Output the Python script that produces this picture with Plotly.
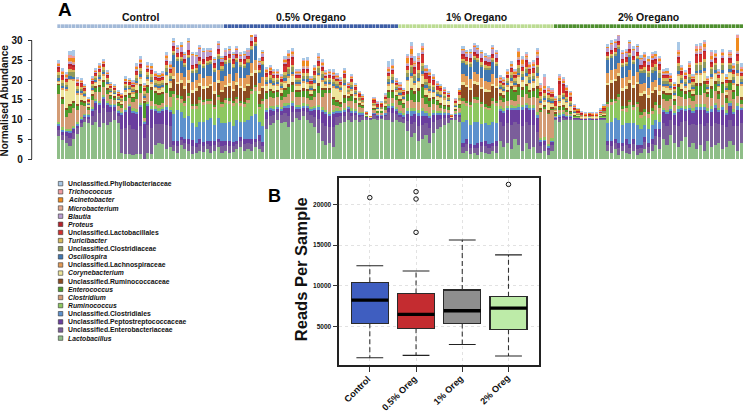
import plotly.graph_objects as go

W, H = 745, 413
FONT = "Liberation Sans, Arial, Helvetica, sans-serif"

# ---------------- Panel A data ----------------
group_names = ["Control", "0.5% Oregano", "1% Oregano", "2% Oregano"]
group_sizes = [45, 47, 42, 51]
group_colors = ["#A3BAD8", "#3E5EA6", "#BCDC93", "#4E8F2F"]

lactobacillus = [
 5.8, 4.7, 4.0, 3.3, 5.0, 6.4, 8.0, 9.3, 9.0,
 8.5, 9.5, 8.0, 9.0, 8.5, 9.5, 10.0, 9.0,
 1.5, 1.2, 1.3, 1.0, 1.4, 1.2, 0.0,
 1.5, 1.3, 3.5, 4.0, 3.8, 2.5, 3.0,
 2.0, 1.5, 3.5, 2.5, 2.0, 1.2, 1.5, 2.0, 1.8, 2.5, 1.5, 2.0, 3.0, 1.5,
 2.0, 1.5, 1.8, 2.5, 3.0, 2.0, 2.5, 2.0, 3.0, 2.5, 1.8,
 7.5, 8.5, 9.0, 10.0, 9.0, 9.5, 8.0, 9.5, 10.5, 10.0, 11.0, 10.0, 9.0, 8.0, 6.5, 4.5, 3.5, 4.0, 3.0, 8.5, 9.0, 9.5, 10.0, 9.5, 10.0, 9.5, 10.0,
 10.0, 10.0, 10.2, 10.0, 10.1, 10.0,
 10.0, 9.5, 10.0,
 9.5, 9.0, 7.0, 5.5, 6.5, 4.5, 5.0, 6.0, 4.0, 6.5, 7.5, 8.0, 8.5, 9.0,
 10.0, 10.0, 9.5,
 1.5, 2.0, 1.2, 1.5, 1.0, 1.8, 1.5, 1.2, 2.0, 1.5,
 4.5, 3.0, 4.0, 2.5, 5.0, 3.5, 2.0, 4.0, 2.5, 3.0, 1.5,
 1.5, 2.0, 1.0, 2.0,
 10.0, 9.5, 10.0, 9.8, 10.0, 10.0, 10.2, 10.0, 10.0, 10.1, 10.0, 10.0, 10.2, 10.0,
 2.0, 1.5, 2.5, 1.0, 2.0, 1.5, 1.2, 2.0, 1.0, 1.5, 2.5, 1.5, 2.0, 3.5, 2.5,
 5.0, 3.5, 6.0, 4.0, 3.0, 4.5, 5.5, 3.0, 4.0, 2.5, 3.5, 2.0, 4.5, 3.0, 3.5, 4.0, 2.5, 3.0, 4.5, 3.5, 2.0, 4.0,
]
enterobacteriaceae = [
 1.5, 1.5, 1.8, 2.0, 1.5, 1.5, 1.2, 1.0, 1.2,
 2.4, 3.0, 3.6, 3.9, 3.3, 2.4, 2.1, 1.8,
 6.0, 6.6, 7.2, 6.6, 6.0, 7.2, 5.4,
 7.2, 6.6, 5.4, 4.8, 5.1, 6.0, 5.4,
 1.5, 1.8, 1.2, 1.5, 1.8, 2.1, 1.5, 1.8, 1.5, 1.2, 1.8, 1.5, 1.2, 1.8,
 1.5, 1.8, 1.5, 1.2, 1.5, 1.8, 1.5, 1.8, 1.2, 2.1, 1.5,
 2.7, 2.4, 2.1, 1.8, 2.1, 2.1, 3.0, 2.4, 1.5, 1.8, 1.2, 1.8, 2.1, 2.7, 3.6, 4.5, 4.8, 4.2, 5.1, 2.1, 1.8, 1.5, 1.8, 1.5, 1.2, 1.2, 0.9,
 0.5, 0.4, 0.9, 0.7, 0.6, 0.9,
 1.8, 2.1, 1.5,
 1.2, 1.2, 2.7, 3.3, 3.0, 3.9, 3.6, 3.0, 3.9, 3.0, 2.4, 2.1, 1.8, 1.5,
 0.3, 0.9, 1.2,
 1.5, 1.8, 1.5, 1.2, 1.8, 1.5, 1.8, 1.5, 1.2, 1.8,
 4.8, 5.4, 5.1, 6.0, 4.5, 5.4, 6.3, 5.4, 6.0, 5.7, 5.4,
 1.8, 1.5, 1.2, 1.5,
 0.3, 0.9, 0.7, 0.6, 0.5, 0.3, 0.2, 0.2, 0.2, 0.2, 0.2, 0.2, 0.2, 0.3,
 1.5, 1.8, 1.5, 1.8, 1.2, 2.1, 1.5, 1.8, 1.5, 1.2, 1.8, 1.5, 1.8, 2.4, 3.0,
 4.2, 4.8, 3.9, 4.5, 5.4, 4.8, 4.2, 5.7, 4.8, 6.0, 5.4, 6.3, 4.5, 5.4, 5.7, 4.8, 6.0, 5.1, 5.4, 4.8, 6.3, 5.1,
]
peptostreptococcaceae = [
 1.0, 1.0, 1.0, 1.2, 1.0, 0.8, 0.8, 0.6, 0.8,
 1.6, 2.0, 2.4, 2.6, 2.2, 1.6, 1.4, 1.2,
 4.0, 4.4, 4.8, 4.4, 4.0, 4.8, 3.6,
 4.8, 4.4, 3.6, 3.2, 3.4, 4.0, 3.6,
 1.0, 1.2, 0.8, 1.0, 1.2, 1.4, 1.0, 1.2, 1.0, 0.8, 1.2, 1.0, 0.8, 1.2,
 1.0, 1.2, 1.0, 0.8, 1.0, 1.2, 1.0, 1.2, 0.8, 1.4, 1.0,
 1.8, 1.6, 1.4, 1.2, 1.4, 1.4, 2.0, 1.6, 1.0, 1.2, 0.8, 1.2, 1.4, 1.8, 2.4, 3.0, 3.2, 2.8, 3.4, 1.4, 1.2, 1.0, 1.2, 1.0, 0.8, 0.8, 0.6,
 0.3, 0.2, 0.6, 0.5, 0.4, 0.6,
 1.2, 1.4, 1.0,
 0.8, 0.8, 1.8, 2.2, 2.0, 2.6, 2.4, 2.0, 2.6, 2.0, 1.6, 1.4, 1.2, 1.0,
 0.2, 0.6, 0.8,
 1.0, 1.2, 1.0, 0.8, 1.2, 1.0, 1.2, 1.0, 0.8, 1.2,
 3.2, 3.6, 3.4, 4.0, 3.0, 3.6, 4.2, 3.6, 4.0, 3.8, 3.6,
 1.2, 1.0, 0.8, 1.0,
 0.2, 0.6, 0.5, 0.4, 0.3, 0.2, 0.2, 0.1, 0.1, 0.1, 0.1, 0.1, 0.2, 0.2,
 1.0, 1.2, 1.0, 1.2, 0.8, 1.4, 1.0, 1.2, 1.0, 0.8, 1.2, 1.0, 1.2, 1.6, 2.0,
 2.8, 3.2, 2.6, 3.0, 3.6, 3.2, 2.8, 3.8, 3.2, 4.0, 3.6, 4.2, 3.0, 3.6, 3.8, 3.2, 4.0, 3.4, 3.6, 3.2, 4.2, 3.4,
]
clostridiales = [
 0.8, 0.5, 0.6, 0.8, 0.6, 0.5, 0.4, 0.4, 0.3,
 0.4, 0.4, 0.5, 0.5, 0.4, 0.3, 0.3, 0.3,
 0.3, 0.5, 0.4, 0.5, 0.8, 0.7, 0.5,
 0.6, 0.7, 0.5, 0.5, 0.5, 0.8, 0.7,
 7.0, 8.0, 6.5, 5.5, 6.0, 4.5, 4.0, 4.5, 5.0, 5.5, 6.0, 4.0, 5.5, 4.5,
 4.5, 5.0, 4.0, 5.5, 4.0, 4.5, 5.0, 6.0, 6.5, 3.5, 4.0,
 0.6, 0.6, 0.5, 0.5, 0.4, 0.7, 0.8, 0.8, 0.5, 0.5, 0.7, 0.6, 0.4, 0.6, 0.8, 0.7, 0.6, 0.6, 0.6, 0.5, 0.4, 0.6, 0.3, 0.5, 0.4, 0.3, 0.3,
 0.1, 0.0, 0.2, 0.2, 0.2, 0.3,
 0.6, 0.7, 0.4,
 0.4, 0.4, 1.0, 1.2, 0.9, 1.0, 1.2, 0.8, 0.7, 0.5, 0.4, 0.4, 0.3, 0.3,
 0.0, 0.2, 0.3,
 5.5, 5.0, 5.0, 6.0, 5.5, 4.5, 4.5, 5.0, 5.5, 4.5,
 0.5, 0.5, 0.6, 0.7, 0.6, 0.9, 0.8, 0.8, 0.7, 0.7, 1.0,
 0.5, 0.6, 0.5, 0.4,
 0.3, 0.5, 0.4, 0.4, 0.3, 0.2, 0.1, 0.1, 0.1, 0.1, 0.1, 0.1, 0.1, 0.2,
 4.5, 5.0, 5.5, 6.0, 4.5, 4.0, 5.5, 4.0, 5.0, 4.0, 3.0, 3.5, 3.5, 2.5, 2.0,
 0.6, 0.6, 0.5, 0.4, 0.9, 0.6, 0.5, 0.7, 0.5, 0.9, 0.9, 1.0, 0.5, 0.8, 0.8, 0.6, 0.8, 0.5, 0.8, 0.7, 1.0, 0.6,
]
ruminococcus = [
 0.3, 0.3, 0.3, 0.3, 0.3, 0.3, 0.3, 0.2, 0.2,
 0.3, 0.3, 0.3, 0.3, 0.3, 0.2, 0.2, 0.2,
 0.2, 0.3, 0.2, 0.3, 0.4, 0.4, 0.3,
 0.4, 0.4, 0.3, 0.3, 0.3, 0.5, 0.4,
 4.3, 2.5, 2.3, 3.0, 4.5, 3.5, 4.7, 4.7, 4.5, 3.9, 3.4, 4.2, 4.5, 4.1,
 5.2, 4.5, 5.2, 4.3, 4.0, 3.6, 4.3, 5.5, 5.8, 3.2, 5.7,
 0.3, 0.3, 0.3, 0.3, 0.3, 0.4, 0.4, 0.4, 0.3, 0.3, 0.4, 0.4, 0.3, 0.3, 0.4, 0.4, 0.3, 0.4, 0.3, 0.3, 0.3, 0.3, 0.2, 0.3, 0.2, 0.2, 0.2,
 0.0, 0.0, 0.1, 0.1, 0.1, 0.2,
 0.4, 0.4, 0.3,
 0.3, 0.2, 0.5, 0.6, 0.5, 0.5, 0.6, 0.4, 0.4, 0.3, 0.3, 0.2, 0.2, 0.2,
 0.0, 0.1, 0.2,
 4.5, 3.5, 4.4, 4.8, 4.8, 4.3, 3.7, 3.6, 4.5, 4.5,
 0.3, 0.3, 0.3, 0.4, 0.3, 0.5, 0.4, 0.4, 0.4, 0.4, 0.5,
 0.4, 0.5, 0.4, 0.4,
 0.1, 0.3, 0.3, 0.2, 0.2, 0.1, 0.1, 0.0, 0.0, 0.0, 0.0, 0.0, 0.1, 0.1,
 4.2, 4.2, 3.7, 5.0, 3.6, 3.0, 4.5, 3.5, 4.7, 3.0, 2.5, 2.8, 2.8, 2.5, 2.0,
 0.3, 0.4, 0.3, 0.3, 0.5, 0.3, 0.3, 0.4, 0.3, 0.5, 0.5, 0.5, 0.3, 0.5, 0.4, 0.3, 0.5, 0.3, 0.4, 0.4, 0.6, 0.4,
]
clostridium = [
 7.0, 6.0, 3.0, 4.0, 4.5, 3.0, 3.0, 2.0, 1.0,
 1.7, 1.7, 2.1, 2.0, 1.7, 1.2, 1.0, 1.0,
 1.0, 1.7, 1.5, 1.6, 2.5, 2.5, 0.5,
 2.2, 1.4, 0.7, 0.9, 1.0, 2.9, 2.5,
 1.0, 0.8, 1.2, 0.9, 0.8, 1.0, 0.9, 1.1, 0.8, 0.9, 1.0, 0.8, 0.9, 1.0,
 0.9, 1.0, 0.8, 1.1, 0.9, 1.0, 0.8, 0.9, 1.2, 0.8, 0.9,
 2.3, 2.3, 2.1, 1.9, 1.8, 1.7, 2.2, 2.2, 1.9, 1.9, 1.6, 1.5, 1.7, 2.3, 2.9, 2.6, 4.2, 4.6, 1.3, 0.6, 0.5, 1.3, 1.3, 1.9, 1.5, 1.1, 1.0,
 0.1, 0.0, 0.4, 0.4, 0.4, 0.5,
 1.4, 1.3, 1.7,
 1.6, 1.4, 1.6, 2.1, 1.6, 2.0, 2.7, 1.8, 1.6, 1.6, 1.4, 0.8, 0.6, 0.5,
 0.1, 0.3, 0.8,
 1.0, 0.8, 0.9, 1.1, 0.9, 1.0, 0.8, 0.9, 1.0, 0.9,
 1.7, 1.7, 1.3, 1.4, 1.3, 2.2, 2.1, 2.3, 1.8, 2.0, 3.4,
 6.5, 7.0, 7.5, 7.0,
 0.3, 0.5, 0.6, 0.4, 0.2, 0.1, 0.1, 0.1, 0.1, 0.1, 0.1, 0.1, 0.1, 0.1,
 0.9, 1.0, 0.8, 1.0, 0.9, 1.1, 0.9, 0.8, 1.0, 0.9, 1.2, 1.0, 1.1, 1.3, 1.5,
 2.2, 2.3, 1.8, 1.6, 2.6, 2.3, 2.0, 1.8, 1.9, 2.3, 2.4, 2.6, 3.0, 2.2, 2.9, 2.2, 3.0, 2.0, 2.8, 2.6, 1.9, 0.5,
]
enterococcus = [
 2.5, 1.5, 2.0, 2.0, 1.5, 1.2, 1.0, 1.0, 0.6,
 1.3, 1.3, 1.6, 1.5, 1.3, 0.9, 0.8, 0.8,
 0.8, 1.3, 1.1, 1.2, 1.9, 1.9, 4.0,
 1.7, 3.0, 3.0, 2.8, 2.5, 2.2, 1.9,
 0.4, 0.3, 0.4, 0.3, 0.4, 0.3, 0.4, 0.3, 0.4, 0.3, 0.4, 0.3, 0.4, 0.3,
 0.3, 0.4, 0.3, 0.4, 0.3, 0.4, 0.3, 0.4, 0.3, 0.4, 0.3,
 1.7, 1.7, 1.6, 1.5, 1.3, 1.9, 2.1, 2.1, 1.5, 1.5, 1.8, 1.9, 1.3, 1.7, 2.2, 2.0, 1.0, 1.0, 1.7, 1.2, 1.0, 1.6, 1.0, 1.4, 1.1, 0.9, 0.7,
 0.2, 0.1, 0.6, 0.5, 0.5, 0.8,
 1.7, 1.8, 1.2,
 1.2, 1.1, 2.2, 2.7, 2.2, 3.0, 3.0, 1.9, 1.8, 1.5, 1.2, 1.1, 1.0, 0.9,
 0.1, 0.6, 1.0,
 0.4, 0.3, 0.4, 0.3, 0.4, 0.3, 0.4, 0.3, 0.4, 0.3,
 1.3, 1.3, 2.5, 3.0, 2.5, 2.3, 2.0, 2.1, 1.8, 1.9, 2.6,
 0.8, 0.8, 0.6, 0.6,
 0.5, 1.0, 1.0, 0.8, 0.6, 0.3, 0.2, 0.2, 0.1, 0.1, 0.1, 0.1, 0.2, 0.3,
 0.3, 0.4, 0.3, 0.4, 0.3, 0.4, 0.3, 0.4, 0.3, 0.4, 0.5, 0.6, 0.5, 0.6, 0.8,
 1.7, 1.7, 1.3, 1.2, 2.5, 1.7, 1.5, 1.8, 1.4, 2.5, 2.5, 2.7, 0.8, 2.4, 2.2, 1.7, 2.3, 1.5, 2.1, 1.9, 2.5, 1.2,
]
ruminococcaceae = [
 0.3, 0.3, 0.3, 0.4, 0.4, 0.3, 0.3, 0.2, 0.2,
 0.3, 0.3, 0.3, 0.3, 0.3, 0.2, 0.2, 0.2,
 0.2, 0.3, 0.2, 0.2, 0.4, 0.4, 0.3,
 0.3, 0.4, 0.3, 0.3, 0.3, 0.4, 0.4,
 3.2, 3.0, 3.5, 3.3, 2.8, 3.0, 3.4, 3.2, 2.9, 3.1, 3.3, 3.0, 3.2, 2.8,
 3.0, 3.3, 2.8, 3.1, 3.4, 3.0, 3.2, 3.5, 3.3, 2.8, 3.0,
 0.3, 0.3, 0.3, 0.3, 0.3, 0.4, 0.4, 0.4, 0.3, 0.3, 0.4, 0.4, 0.3, 0.3, 0.4, 0.4, 0.3, 0.3, 0.3, 0.3, 0.3, 0.3, 0.2, 0.3, 0.2, 0.2, 0.1,
 0.0, 0.0, 0.1, 0.1, 0.1, 0.2,
 0.3, 0.4, 0.2,
 0.2, 0.2, 0.4, 0.5, 0.4, 0.5, 0.5, 0.4, 0.4, 0.3, 0.2, 0.2, 0.2, 0.2,
 0.0, 0.1, 0.2,
 3.5, 3.8, 3.2, 3.6, 3.4, 3.5, 3.3, 3.6, 3.2, 3.4,
 0.3, 0.3, 0.3, 0.4, 0.3, 0.5, 0.4, 0.4, 0.4, 0.4, 0.5,
 0.3, 0.3, 0.3, 0.3,
 0.1, 0.2, 0.2, 0.2, 0.1, 0.1, 0.0, 0.0, 0.0, 0.0, 0.0, 0.0, 0.0, 0.1,
 4.5, 4.3, 4.6, 4.8, 4.2, 4.4, 4.6, 4.5, 4.7, 4.3, 3.8, 3.5, 3.8, 3.0, 2.5,
 0.3, 0.3, 0.3, 0.2, 0.5, 0.3, 0.3, 0.4, 0.3, 0.5, 0.5, 0.5, 0.3, 0.5, 0.4, 0.3, 0.5, 0.3, 0.4, 0.4, 0.6, 0.4,
]
corynebacterium = [
 0.5, 2.0, 4.5, 6.0, 5.0, 2.5, 1.5, 1.2, 0.5,
 1.0, 1.0, 1.3, 1.2, 1.0, 0.7, 0.6, 0.6,
 0.6, 1.0, 0.9, 1.0, 1.5, 1.5, 0.6,
 1.3, 1.0, 0.8, 1.0, 1.2, 1.7, 1.5,
 0.5, 0.4, 0.5, 0.4, 0.5, 0.4, 0.5, 0.4, 0.5, 0.4, 0.5, 0.4, 0.5, 0.4,
 0.4, 0.5, 0.4, 0.5, 0.4, 0.5, 0.4, 0.5, 0.4, 0.5, 0.4,
 1.4, 1.4, 1.3, 1.2, 1.1, 1.5, 1.7, 1.7, 1.2, 1.2, 1.5, 1.5, 1.0, 1.4, 1.7, 1.6, 0.8, 1.0, 2.5, 3.0, 2.8, 2.5, 0.8, 1.1, 0.9, 0.7, 0.6,
 0.2, 0.1, 0.5, 0.4, 0.4, 0.6,
 1.4, 1.5, 1.0,
 0.9, 0.8, 2.5, 2.5, 1.7, 1.5, 2.0, 1.5, 1.5, 1.2, 1.0, 1.5, 1.5, 1.2,
 0.1, 0.5, 0.8,
 0.5, 0.4, 0.5, 0.4, 0.5, 0.4, 0.5, 0.4, 0.5, 0.4,
 1.0, 1.0, 1.0, 1.2, 1.0, 1.9, 1.6, 1.7, 1.5, 1.5, 2.1,
 1.0, 1.0, 2.0, 1.0,
 0.6, 1.0, 1.5, 1.5, 1.2, 0.5, 0.3, 0.3, 0.2, 0.2, 0.2, 0.2, 0.3, 0.4,
 0.4, 0.5, 0.4, 0.5, 0.4, 0.5, 0.4, 0.5, 0.4, 0.5, 0.6, 0.7, 0.6, 0.8, 0.9,
 1.3, 1.4, 1.1, 1.0, 2.0, 1.4, 1.2, 1.5, 1.1, 2.0, 2.0, 2.1, 0.8, 1.9, 1.8, 1.3, 1.8, 1.2, 1.7, 1.5, 2.0, 3.0,
]
lachnospiraceae = [
 0.4, 0.4, 0.5, 0.6, 0.6, 0.5, 0.4, 0.3, 0.2,
 0.3, 0.3, 0.4, 0.4, 0.3, 0.2, 0.2, 0.2,
 0.2, 0.3, 0.3, 0.3, 0.5, 0.5, 0.4,
 0.4, 0.5, 0.4, 0.4, 0.4, 0.6, 0.5,
 2.5, 2.2, 2.0, 2.3, 2.5, 2.1, 2.0, 2.4, 2.2, 2.3, 2.0, 2.2, 2.5, 2.1,
 2.2, 2.4, 2.0, 2.3, 2.1, 2.5, 2.2, 2.4, 2.6, 2.0, 2.2,
 0.5, 0.5, 0.4, 0.4, 0.4, 0.5, 0.6, 0.6, 0.4, 0.4, 0.5, 0.5, 0.3, 0.5, 0.6, 0.5, 0.4, 0.4, 0.4, 0.4, 0.3, 0.4, 0.3, 0.4, 0.3, 0.2, 0.2,
 0.1, 0.0, 0.2, 0.1, 0.1, 0.2,
 0.5, 0.5, 0.3,
 0.3, 0.3, 0.6, 0.7, 0.6, 0.6, 0.7, 0.5, 0.5, 0.4, 0.3, 0.3, 0.3, 0.2,
 0.0, 0.2, 0.3,
 2.0, 2.2, 2.1, 2.3, 2.0, 2.2, 2.1, 2.0, 2.3, 2.1,
 0.3, 0.3, 0.4, 0.5, 0.4, 0.6, 0.5, 0.6, 0.5, 0.5, 0.7,
 0.4, 0.4, 0.4, 0.3,
 0.2, 0.3, 0.3, 0.3, 0.3, 0.2, 0.1, 0.1, 0.1, 0.1, 0.1, 0.1, 0.1, 0.2,
 2.5, 2.7, 2.4, 2.6, 2.5, 2.3, 2.6, 2.4, 2.5, 2.3, 2.2, 2.0, 2.1, 1.8, 1.5,
 0.4, 0.5, 0.4, 0.3, 0.7, 0.5, 0.4, 0.5, 0.4, 0.7, 0.7, 0.7, 0.3, 0.6, 0.6, 0.4, 0.6, 0.4, 0.6, 0.5, 0.8, 0.5,
]
oscillospira = [
 0.3, 0.3, 0.2, 0.3, 0.3, 0.2, 0.2, 0.2, 0.1,
 0.3, 0.3, 0.3, 0.3, 0.3, 0.2, 0.2, 0.2,
 0.2, 0.3, 0.2, 0.2, 0.4, 0.4, 0.3,
 0.3, 0.4, 0.3, 0.3, 0.3, 0.4, 0.4,
 3.0, 3.2, 2.8, 2.6, 3.0, 2.2, 2.0, 2.2, 2.4, 2.8, 3.0, 2.6, 2.9, 2.7,
 3.0, 2.8, 3.2, 2.9, 2.7, 2.6, 3.0, 3.3, 3.4, 2.5, 2.9,
 0.3, 0.3, 0.3, 0.3, 0.3, 0.4, 0.4, 0.4, 0.3, 0.3, 0.4, 0.4, 0.3, 0.3, 0.4, 0.4, 0.3, 0.3, 0.3, 0.3, 0.3, 0.3, 0.2, 0.3, 0.2, 0.2, 0.1,
 0.0, 0.0, 0.1, 0.1, 0.1, 0.2,
 0.3, 0.4, 0.2,
 0.2, 0.2, 0.4, 0.5, 0.4, 0.5, 0.5, 0.4, 0.4, 0.3, 0.2, 0.2, 0.2, 0.2,
 0.0, 0.1, 0.2,
 3.0, 2.8, 3.2, 3.0, 3.1, 2.9, 2.8, 3.0, 3.2, 2.9,
 0.3, 0.3, 0.3, 0.4, 0.3, 0.5, 0.4, 0.4, 0.4, 0.4, 0.5,
 0.3, 0.3, 0.3, 0.3,
 0.1, 0.2, 0.2, 0.2, 0.1, 0.1, 0.0, 0.0, 0.0, 0.0, 0.0, 0.0, 0.0, 0.1,
 3.2, 3.0, 3.3, 3.5, 3.0, 2.9, 3.2, 3.0, 3.1, 2.8, 2.5, 2.6, 2.4, 2.2, 1.8,
 0.3, 0.3, 0.3, 0.2, 0.5, 0.3, 0.3, 0.4, 0.3, 0.5, 0.5, 0.5, 0.3, 0.5, 0.4, 0.3, 0.5, 0.3, 0.4, 0.4, 0.6, 0.4,
]
clostridiaceae = [
 1.2, 1.0, 0.8, 1.2, 1.3, 0.8, 0.8, 0.6, 0.4,
 0.7, 0.7, 0.8, 0.8, 0.7, 0.5, 0.4, 0.4,
 0.4, 0.7, 0.6, 0.6, 1.0, 1.0, 0.8,
 0.9, 1.0, 0.8, 0.8, 0.8, 1.1, 1.0,
 0.7, 0.6, 0.8, 0.7, 0.6, 0.7, 0.8, 0.6, 0.7, 0.8, 0.6, 0.7, 0.8, 0.7,
 0.7, 0.8, 0.6, 0.7, 0.8, 0.7, 0.6, 0.7, 0.8, 0.6, 0.7,
 0.9, 0.9, 0.8, 0.8, 0.7, 1.0, 1.1, 1.1, 0.8, 0.8, 1.0, 1.0, 0.7, 0.9, 1.1, 1.1, 0.6, 0.6, 0.9, 0.7, 0.6, 0.9, 0.5, 0.8, 0.6, 0.5, 0.4,
 0.1, 0.0, 0.3, 0.3, 0.3, 0.4,
 0.9, 1.0, 0.6,
 0.6, 0.6, 1.2, 1.4, 1.2, 1.3, 1.4, 1.0, 1.0, 0.8, 0.7, 0.6, 0.5, 0.5,
 0.1, 0.3, 0.5,
 0.7, 0.6, 0.8, 0.7, 0.6, 0.7, 0.8, 0.7, 0.6, 0.7,
 0.7, 0.7, 0.8, 1.0, 0.8, 1.2, 1.1, 1.1, 1.0, 1.0, 1.4,
 0.8, 0.8, 0.7, 0.6,
 0.4, 0.8, 0.7, 0.6, 0.5, 0.3, 0.2, 0.2, 0.1, 0.1, 0.1, 0.1, 0.2, 0.3,
 0.7, 0.6, 0.8, 0.7, 0.6, 0.7, 0.8, 0.7, 0.6, 0.7, 1.0, 1.1, 1.0, 1.2, 1.3,
 0.9, 0.9, 0.7, 0.7, 1.4, 0.9, 0.8, 1.0, 0.8, 1.3, 1.3, 1.4, 0.6, 1.3, 1.2, 0.9, 1.2, 0.8, 1.1, 1.0, 1.5, 0.9,
]
turicibacter = [
 0.5, 0.5, 0.4, 0.6, 0.6, 0.4, 0.4, 0.3, 0.2,
 0.3, 0.3, 0.4, 0.4, 0.3, 0.2, 0.2, 0.2,
 0.2, 0.3, 0.3, 0.3, 0.5, 0.5, 0.4,
 0.4, 0.5, 0.4, 0.4, 0.4, 0.6, 0.5,
 0.3, 0.4, 0.3, 0.4, 0.3, 0.4, 0.3, 0.4, 0.3, 0.4, 0.3, 0.4, 0.3, 0.4,
 0.4, 0.3, 0.4, 0.3, 0.4, 0.3, 0.4, 0.3, 0.4, 0.3, 0.4,
 0.5, 0.5, 0.4, 0.4, 0.4, 0.5, 0.6, 0.6, 0.4, 0.4, 0.5, 0.5, 0.3, 0.5, 0.6, 0.5, 0.4, 0.4, 0.4, 0.4, 0.3, 0.4, 0.3, 0.4, 0.3, 0.2, 0.2,
 0.1, 0.0, 0.2, 0.1, 0.1, 0.2,
 0.5, 0.5, 0.3,
 0.3, 0.3, 0.6, 0.7, 0.6, 0.6, 0.7, 0.5, 0.5, 0.4, 0.3, 0.3, 0.3, 0.2,
 0.0, 0.2, 0.3,
 0.3, 0.4, 0.3, 0.4, 0.3, 0.4, 0.3, 0.4, 0.3, 0.4,
 0.3, 0.3, 0.4, 0.5, 0.4, 0.6, 0.5, 0.6, 0.5, 0.5, 0.7,
 0.4, 0.4, 0.4, 0.3,
 0.3, 0.5, 0.4, 0.4, 0.3, 0.2, 0.2, 0.1, 0.1, 0.1, 0.1, 0.1, 0.1, 0.2,
 0.4, 0.3, 0.4, 0.3, 0.4, 0.3, 0.4, 0.3, 0.4, 0.3, 0.5, 0.6, 0.5, 0.6, 0.7,
 0.4, 0.5, 0.4, 0.3, 0.7, 0.5, 0.4, 0.5, 0.4, 0.7, 0.7, 0.7, 0.3, 0.6, 0.6, 0.4, 0.6, 0.4, 0.6, 0.5, 0.8, 0.5,
]
lactobacillales = [
 1.0, 1.0, 0.8, 1.2, 1.0, 0.8, 0.8, 0.6, 0.3,
 0.6, 0.6, 0.7, 0.7, 0.6, 0.4, 0.4, 0.4,
 0.4, 0.6, 0.5, 0.6, 0.9, 0.9, 0.7,
 0.8, 0.8, 0.7, 0.7, 0.7, 1.0, 0.9,
 1.0, 0.8, 0.9, 0.7, 0.8, 0.9, 0.7, 0.8, 0.9, 0.8, 0.7, 0.9, 1.0, 0.8,
 0.9, 0.8, 1.0, 0.8, 0.7, 0.9, 0.8, 1.0, 1.1, 0.8, 0.9,
 0.8, 0.8, 0.7, 0.7, 0.6, 1.5, 1.5, 1.5, 0.7, 0.7, 0.9, 0.9, 0.6, 0.8, 1.0, 0.9, 0.6, 0.6, 0.8, 0.6, 0.6, 0.8, 0.5, 0.7, 0.5, 0.4, 0.3,
 0.2, 0.1, 0.5, 0.5, 0.5, 0.6,
 0.8, 0.9, 0.6,
 0.6, 0.5, 1.0, 1.5, 1.5, 1.8, 2.0, 1.5, 1.5, 1.2, 1.0, 0.8, 0.5, 0.4,
 0.2, 0.6, 0.8,
 0.8, 0.9, 0.7, 0.8, 0.9, 0.8, 0.7, 0.8, 0.9, 0.8,
 0.6, 0.6, 0.7, 0.9, 0.7, 1.1, 0.9, 1.5, 1.2, 1.2, 1.5,
 0.8, 0.8, 0.6, 0.6,
 1.2, 2.8, 2.0, 1.2, 1.0, 0.4, 0.3, 0.3, 0.3, 0.3, 0.3, 0.3, 0.3, 0.4,
 0.8, 0.9, 0.8, 0.7, 0.8, 0.9, 0.8, 0.7, 0.8, 0.9, 1.2, 1.1, 1.3, 1.0, 1.2,
 0.8, 0.8, 0.6, 0.6, 1.2, 0.8, 0.7, 1.2, 0.7, 1.8, 1.8, 1.8, 0.5, 1.1, 1.0, 0.8, 1.1, 0.7, 1.0, 0.9, 1.3, 0.8,
]
proteus = [
 0.4, 0.4, 0.3, 0.5, 0.5, 0.3, 0.3, 0.2, 0.1,
 0.3, 0.3, 0.3, 0.3, 0.3, 0.2, 0.2, 0.2,
 0.1, 0.3, 0.2, 0.2, 0.4, 0.4, 0.3,
 0.3, 0.4, 0.3, 0.3, 0.3, 0.4, 0.4,
 0.3, 0.2, 0.3, 0.2, 0.3, 0.2, 0.3, 0.2, 0.3, 0.2, 0.3, 0.2, 0.3, 0.2,
 0.2, 0.3, 0.2, 0.3, 0.2, 0.3, 0.2, 0.3, 0.2, 0.3, 0.2,
 0.3, 0.3, 0.3, 0.3, 0.3, 0.8, 0.8, 0.8, 0.3, 0.3, 0.4, 0.4, 0.3, 0.3, 0.4, 0.4, 0.3, 0.3, 0.3, 0.3, 0.3, 0.3, 0.2, 0.3, 0.2, 0.2, 0.1,
 0.1, 0.0, 0.2, 0.2, 0.2, 0.2,
 0.3, 0.4, 0.2,
 0.2, 0.2, 0.4, 0.5, 0.4, 0.5, 0.6, 0.4, 0.4, 0.3, 0.2, 0.2, 0.2, 0.2,
 0.1, 0.2, 0.2,
 0.3, 0.2, 0.3, 0.2, 0.3, 0.2, 0.3, 0.2, 0.3, 0.2,
 0.3, 0.3, 0.3, 0.4, 0.3, 0.5, 0.4, 0.4, 0.4, 0.4, 0.5,
 0.4, 0.4, 0.3, 0.3,
 0.3, 0.8, 0.5, 0.4, 0.3, 0.2, 0.2, 0.1, 0.1, 0.1, 0.1, 0.1, 0.1, 0.2,
 0.2, 0.3, 0.2, 0.3, 0.2, 0.3, 0.2, 0.3, 0.2, 0.3, 0.4, 0.3, 0.4, 0.3, 0.4,
 0.3, 0.3, 0.3, 0.2, 0.5, 0.3, 0.3, 0.5, 0.3, 0.6, 0.6, 0.6, 0.2, 0.5, 0.4, 0.3, 0.5, 0.3, 0.4, 0.4, 0.6, 0.4,
]
blautia = [
 0.2, 0.2, 0.2, 0.3, 0.3, 0.2, 0.2, 0.2, 0.1,
 0.2, 0.2, 0.2, 0.2, 0.2, 0.1, 0.1, 0.1,
 0.1, 0.2, 0.1, 0.2, 0.3, 0.3, 0.2,
 0.2, 0.2, 0.2, 0.2, 0.2, 0.3, 0.3,
 1.0, 1.2, 1.5, 1.2, 2.2, 2.5, 2.0, 2.3, 2.0, 1.5, 1.2, 1.0, 1.2, 1.0,
 1.2, 1.0, 1.3, 1.1, 0.9, 1.0, 1.2, 1.3, 1.5, 0.8, 1.0,
 0.2, 0.2, 0.2, 0.2, 0.2, 0.3, 0.3, 0.3, 0.2, 0.2, 0.2, 0.3, 0.2, 0.2, 0.3, 0.3, 0.2, 0.2, 0.2, 0.2, 0.2, 0.2, 0.1, 0.2, 0.1, 0.1, 0.1,
 0.0, 0.0, 0.1, 0.1, 0.1, 0.1,
 0.2, 0.2, 0.2,
 0.2, 0.1, 0.3, 0.4, 0.3, 0.3, 0.4, 0.3, 0.2, 0.2, 0.2, 0.1, 0.1, 0.1,
 0.0, 0.1, 0.1,
 1.2, 1.0, 1.3, 1.5, 1.2, 1.4, 1.1, 1.0, 1.3, 1.2,
 0.2, 0.2, 0.2, 0.2, 0.2, 0.3, 0.3, 0.3, 0.2, 0.3, 0.3,
 0.2, 0.2, 0.2, 0.2,
 0.1, 0.2, 0.2, 0.1, 0.1, 0.1, 0.1, 0.0, 0.0, 0.0, 0.0, 0.0, 0.1, 0.1,
 1.2, 1.5, 1.3, 1.6, 1.4, 1.2, 1.5, 1.6, 1.3, 1.5, 1.0, 1.0, 0.8, 0.7, 0.6,
 0.2, 0.2, 0.2, 0.2, 0.3, 0.2, 0.2, 0.2, 0.2, 0.3, 0.3, 0.4, 0.2, 0.3, 0.3, 0.2, 0.3, 0.2, 0.3, 0.3, 0.4, 0.2,
]
microbacterium = [
 0.2, 0.2, 0.2, 0.2, 0.2, 0.2, 0.2, 0.1, 0.1,
 0.1, 0.1, 0.2, 0.1, 0.1, 0.1, 0.1, 0.1,
 0.1, 0.1, 0.1, 0.1, 0.2, 0.2, 0.1,
 0.2, 0.2, 0.1, 0.1, 0.1, 0.2, 0.2,
 0.1, 0.1, 0.2, 0.1, 0.1, 0.1, 0.2, 0.1, 0.1, 0.1, 0.2, 0.1, 0.1, 0.1,
 0.1, 0.2, 0.1, 0.1, 0.1, 0.2, 0.1, 0.1, 0.1, 0.2, 0.1,
 0.2, 0.2, 0.2, 0.1, 0.1, 0.2, 0.2, 0.2, 0.1, 0.1, 0.2, 0.2, 0.1, 0.2, 0.2, 0.2, 0.2, 0.2, 0.2, 0.1, 0.1, 0.2, 0.1, 0.1, 0.1, 0.1, 0.1,
 0.0, 0.0, 0.1, 0.0, 0.0, 0.1,
 0.2, 0.2, 0.1,
 0.1, 0.1, 0.2, 0.3, 0.2, 0.2, 0.3, 0.2, 0.2, 0.1, 0.1, 0.1, 0.1, 0.1,
 0.0, 0.1, 0.1,
 0.1, 0.1, 0.2, 0.1, 0.1, 0.1, 0.2, 0.1, 0.1, 0.1,
 0.1, 0.1, 0.2, 0.2, 0.2, 0.2, 0.2, 0.2, 0.2, 0.2, 0.3,
 0.2, 0.2, 0.2, 0.1,
 0.1, 0.1, 0.1, 0.1, 0.1, 0.0, 0.0, 0.0, 0.0, 0.0, 0.0, 0.0, 0.0, 0.0,
 0.1, 0.1, 0.2, 0.1, 0.1, 0.1, 0.2, 0.1, 0.1, 0.1, 0.2, 0.1, 0.1, 0.1, 0.1,
 0.2, 0.2, 0.1, 0.1, 0.3, 0.2, 0.2, 0.2, 0.1, 0.2, 0.3, 0.3, 0.1, 0.2, 0.2, 0.2, 0.2, 0.1, 0.2, 0.2, 0.3, 0.2,
]
acinetobacter = [
 0.3, 0.5, 0.5, 1.0, 1.2, 0.4, 0.3, 0.2, 0.1,
 0.3, 0.3, 0.4, 0.4, 0.3, 0.2, 0.2, 0.2,
 0.2, 0.3, 0.3, 0.3, 0.5, 0.5, 0.4,
 0.4, 0.5, 0.4, 0.4, 0.4, 0.6, 0.5,
 0.3, 0.2, 0.3, 0.2, 0.3, 0.2, 0.3, 0.2, 0.3, 0.2, 0.3, 0.2, 0.3, 0.2,
 0.2, 0.3, 0.2, 0.3, 0.2, 0.3, 0.2, 0.3, 0.2, 0.3, 0.2,
 0.5, 0.5, 0.4, 0.4, 0.4, 0.5, 0.6, 0.6, 0.4, 0.4, 1.5, 1.5, 0.3, 0.5, 0.6, 0.5, 0.4, 0.4, 0.4, 0.4, 0.3, 0.4, 0.3, 0.4, 0.3, 0.2, 0.2,
 0.1, 0.1, 0.2, 0.2, 0.2, 0.2,
 0.5, 0.5, 0.3,
 0.3, 0.3, 1.5, 1.5, 0.6, 0.6, 0.7, 0.5, 0.5, 0.4, 0.3, 0.3, 0.3, 0.2,
 0.1, 0.2, 0.3,
 0.3, 0.2, 0.3, 0.2, 0.3, 0.2, 0.3, 0.2, 0.3, 0.2,
 0.3, 0.3, 0.4, 0.5, 0.4, 1.5, 1.2, 0.6, 0.5, 0.5, 0.7,
 0.4, 0.4, 0.4, 0.3,
 0.4, 0.5, 0.5, 0.6, 0.8, 0.4, 0.3, 0.2, 0.2, 0.2, 0.2, 0.2, 0.3, 0.4,
 0.2, 0.3, 0.2, 0.3, 0.2, 0.3, 0.2, 0.3, 0.2, 0.3, 0.5, 0.6, 0.5, 0.6, 0.7,
 0.4, 0.5, 0.4, 0.3, 0.7, 0.5, 0.4, 0.5, 0.4, 0.7, 0.7, 0.7, 0.3, 0.6, 0.6, 0.4, 0.6, 0.4, 0.6, 0.5, 3.5, 0.5,
]
trichococcus = [
 0.4, 0.3, 0.3, 0.5, 0.3, 0.2, 0.2, 0.2, 0.1,
 0.2, 0.2, 0.2, 0.2, 0.2, 0.1, 0.1, 0.1,
 0.1, 0.2, 0.1, 0.2, 0.3, 0.3, 0.2,
 0.2, 0.2, 0.2, 0.2, 0.2, 0.3, 0.3,
 0.1, 0.1, 0.1, 0.1, 0.1, 0.1, 0.1, 0.1, 0.1, 0.1, 0.1, 0.1, 0.1, 0.1,
 0.1, 0.1, 0.1, 0.1, 0.1, 0.1, 0.1, 0.1, 0.1, 0.1, 0.1,
 0.2, 0.2, 0.2, 0.2, 0.2, 0.3, 0.3, 0.3, 0.2, 0.2, 0.2, 0.3, 0.2, 0.2, 0.3, 0.3, 0.2, 0.2, 0.2, 0.2, 0.2, 0.2, 0.1, 0.2, 0.1, 0.1, 0.1,
 0.0, 0.0, 0.1, 0.1, 0.1, 0.1,
 0.2, 0.2, 0.2,
 0.2, 0.1, 0.3, 0.4, 0.3, 0.3, 0.4, 0.3, 0.2, 0.2, 0.2, 0.1, 0.1, 0.1,
 0.0, 0.1, 0.1,
 0.1, 0.1, 0.1, 0.1, 0.1, 0.1, 0.1, 0.1, 0.1, 0.1,
 0.2, 0.2, 0.2, 0.2, 0.2, 0.3, 0.3, 0.3, 0.2, 0.3, 0.3,
 1.0, 2.5, 0.5, 0.4,
 0.2, 0.5, 0.3, 0.2, 0.2, 0.1, 0.1, 0.1, 0.1, 0.1, 0.1, 0.1, 0.1, 0.1,
 0.1, 0.1, 0.1, 0.1, 0.1, 0.1, 0.1, 0.1, 0.1, 0.1, 0.1, 0.1, 0.1, 0.1, 0.1,
 0.2, 0.2, 0.2, 0.2, 0.3, 0.2, 0.2, 0.4, 0.2, 0.5, 0.5, 0.6, 0.2, 1.2, 0.3, 0.2, 0.3, 0.2, 0.3, 0.3, 0.4, 0.2,
]
phyllobacteriaceae = [
 0.4, 0.4, 0.3, 1.0, 1.5, 0.3, 0.3, 0.2, 0.1,
 0.3, 0.3, 0.4, 0.3, 0.3, 0.2, 0.2, 0.2,
 0.2, 0.3, 0.3, 0.3, 0.4, 0.4, 0.3,
 0.4, 0.4, 0.3, 0.3, 0.3, 0.5, 0.4,
 0.4, 0.3, 0.4, 0.3, 0.4, 0.3, 0.4, 0.3, 0.4, 0.3, 0.4, 0.3, 0.4, 0.3,
 0.3, 0.4, 0.3, 0.4, 0.3, 0.4, 0.3, 0.4, 0.3, 0.4, 0.3,
 0.4, 0.4, 0.4, 0.3, 0.3, 0.4, 0.5, 0.5, 0.3, 0.3, 0.4, 0.4, 0.3, 0.4, 0.5, 0.5, 0.3, 0.3, 0.4, 0.3, 0.3, 0.4, 0.2, 0.3, 0.3, 0.2, 0.2,
 0.1, 0.0, 0.1, 0.1, 0.1, 0.2,
 1.5, 1.5, 0.3,
 0.3, 0.3, 0.5, 1.0, 1.2, 0.6, 0.6, 0.5, 0.4, 0.3, 0.3, 0.3, 0.2, 0.2,
 0.1, 0.1, 0.2,
 0.4, 0.3, 0.4, 0.3, 0.4, 0.3, 0.4, 0.3, 0.4, 0.3,
 0.3, 0.3, 0.4, 0.4, 0.4, 0.5, 0.5, 0.5, 0.4, 0.4, 0.6,
 0.4, 0.4, 0.3, 0.3,
 0.3, 0.3, 0.3, 0.3, 0.2, 0.1, 0.1, 0.1, 0.1, 0.1, 0.1, 0.1, 0.1, 0.1,
 0.3, 0.4, 0.3, 0.4, 0.3, 0.4, 0.3, 0.4, 0.3, 0.4, 0.5, 0.5, 0.6, 0.5, 0.6,
 0.4, 0.4, 0.3, 0.3, 2.0, 0.4, 0.4, 0.4, 0.3, 0.6, 0.6, 0.6, 0.3, 0.5, 0.5, 0.4, 0.5, 0.3, 0.5, 0.4, 0.7, 1.2,
]

# stack order: bottom -> top  (name, italic, colour, values)
taxa = [
    ("Lactobacillus", True, "#8FBE88", lactobacillus),
    ("Unclassified.Enterobacteriaceae", False, "#7B5E9A", enterobacteriaceae),
    ("Unclassified.Peptostreptococcaceae", False, "#6A3E9F", peptostreptococcaceae),
    ("Unclassified.Clostridiales", False, "#5D91CD", clostridiales),
    ("Ruminococcus", True, "#8DC760", ruminococcus),
    ("Clostridium", True, "#D39B74", clostridium),
    ("Enterococcus", True, "#4E9B2C", enterococcus),
    ("Unclassified.Ruminococcaceae", False, "#8C4B22", ruminococcaceae),
    ("Corynebacterium", True, "#EDE59C", corynebacterium),
    ("Unclassified.Lachnospiraceae", False, "#E29A57", lachnospiraceae),
    ("Oscillospira", True, "#4177B1", oscillospira),
    ("Unclassified.Clostridiaceae", False, "#8E9A5C", clostridiaceae),
    ("Turicibacter", True, "#D6BA5D", turicibacter),
    ("Unclassified.Lactobacillales", False, "#D2302F", lactobacillales),
    ("Proteus", True, "#B5212B", proteus),
    ("Blautia", True, "#B99DD0", blautia),
    ("Microbacterium", True, "#E3A88E", microbacterium),
    ("Acinetobacter", True, "#F08B1E", acinetobacter),
    ("Trichococcus", True, "#EE9CA0", trichococcus),
    ("Unclassified.Phyllobacteriaceae", False, "#A9C8E6", phyllobacteriaceae),
]

n_samples = sum(group_sizes)
for nm, _, _, vals in taxa:
    if len(vals) != n_samples:
        raise ValueError(f"{nm}: {len(vals)}")
samples = list(range(n_samples))

# ---------------- Panel B data ----------------
box_labels = ["Control", "0.5% Oreg", "1% Oreg", "2% Oreg"]
box_colors = ["#3F5EC0", "#C42C30", "#8E8E8E", "#BDEBA8"]
box_lower = [1130, 1410, 2760, 1330]
box_q1 = [5370, 4760, 5330, 4630]
box_median = [8220, 6470, 6920, 7240]
box_q3 = [10420, 9040, 9480, 8630]
box_upper = [12460, 11810, 15640, 13800]
box_outliers = [[20860], [21590, 20690, 16580], [], [22490]]

# ---------------- figure ----------------
fig = go.Figure()

# header band
hdr_colors = []
for c, n in zip(group_colors, group_sizes):
    hdr_colors += [c] * n
fig.add_trace(go.Bar(x=samples, y=[1] * n_samples, width=1.0, marker=dict(color=hdr_colors, line=dict(color="rgba(255,255,255,0.55)", width=0.6)),
                     xaxis="x", yaxis="y", showlegend=False, hoverinfo="skip"))

# stacked bars
for nm, it, col, vals in taxa:
    fig.add_trace(go.Bar(x=samples, y=vals, width=0.84, marker=dict(color=col, line=dict(width=0)), name=nm,
                         xaxis="x2", yaxis="y2", showlegend=False))

# box plot
pos = [1, 2, 3, 4]
wx, wy = [], []
for p, lo, q1, q3, up in zip(pos, box_lower, box_q1, box_q3, box_upper):
    wx += [p, p, None, p, p, None]
    wy += [q3, up, None, q1, lo, None]
fig.add_trace(go.Scatter(x=wx, y=wy, mode="lines", line=dict(color="#333", width=1.1, dash="5px,3px"),
                         xaxis="x3", yaxis="y3", showlegend=False, hoverinfo="skip"))
cx, cy = [], []
for p, lo, up in zip(pos, box_lower, box_upper):
    cx += [p - 0.29, p + 0.29, None, p - 0.29, p + 0.29, None]
    cy += [up, up, None, lo, lo, None]
fig.add_trace(go.Scatter(x=cx, y=cy, mode="lines", line=dict(color="#222", width=1.1),
                         xaxis="x3", yaxis="y3", showlegend=False, hoverinfo="skip"))
fig.add_trace(go.Bar(x=pos, y=[b - a for a, b in zip(box_q1, box_q3)], base=box_q1, width=0.8,
                     marker=dict(color=box_colors, line=dict(color="#2a2a2a", width=1.2)),
                     xaxis="x3", yaxis="y3", showlegend=False))
mx, my = [], []
for p, m in zip(pos, box_median):
    mx += [p - 0.4, p + 0.4, None]
    my += [m, m, None]
fig.add_trace(go.Scatter(x=mx, y=my, mode="lines", line=dict(color="#000", width=3.4),
                         xaxis="x3", yaxis="y3", showlegend=False, hoverinfo="skip"))
ox, oy = [], []
for p, outs in zip(pos, box_outliers):
    for v in outs:
        ox.append(p)
        oy.append(v)
fig.add_trace(go.Scatter(x=ox, y=oy, mode="markers", marker=dict(symbol="circle-open", size=4.5, color="#111", line=dict(width=1)),
                         xaxis="x3", yaxis="y3", showlegend=False))

def px(x):
    return x / W

def py(y):
    return 1 - y / H

bar_dom = [px(57), px(743)]
tickfont_a = dict(family=FONT, size=10, color="#111")
fig.update_layout(
    width=W, height=H, margin=dict(l=0, r=0, t=0, b=0),
    paper_bgcolor="white", plot_bgcolor="rgba(0,0,0,0)",
    barmode="stack", font=dict(family=FONT, color="#111"),
    xaxis=dict(domain=bar_dom, range=[-0.5, n_samples - 0.5], visible=False, anchor="y"),
    yaxis=dict(domain=[py(28.7), py(24.3)], range=[0, 1], visible=False, anchor="x"),
    xaxis2=dict(domain=bar_dom, range=[-0.5, n_samples - 0.5], visible=False, anchor="y2"),
    yaxis2=dict(domain=[py(161), py(35)], range=[0, 31.5], anchor="free", position=px(31.7),
                showline=False, showgrid=False, zeroline=False, ticks="outside", ticklen=4, tickwidth=1,
                tickcolor="#333", tickvals=[0, 5, 10, 15, 20, 25, 30],
                ticktext=["<b>%d</b>" % v for v in [0, 5, 10, 15, 20, 25, 30]], tickfont=tickfont_a,
                ticklabelstandoff=3),
    xaxis3=dict(domain=[px(339.3), px(539)], range=[0.34, 4.66], anchor="y3",
                tickvals=pos, ticktext=["" for _ in pos], ticks="outside", ticklen=5, tickcolor="#333",
                showline=True, mirror=True, linecolor="#222", linewidth=1.6,
                showgrid=True, gridcolor="#E2E2E2", griddash="dot", gridwidth=0.8, zeroline=False),
    yaxis3=dict(domain=[py(369.3), py(180)], range=[250, 23300], anchor="x3",
                tickvals=[5000, 10000, 15000, 20000], ticktext=["<b>%d</b>" % v for v in [5000, 10000, 15000, 20000]],
                tickfont=dict(family=FONT, size=6.5, color="#111"), ticks="outside", ticklen=5, tickcolor="#333",
                showline=True, mirror=True, linecolor="#222", linewidth=1.6,
                showgrid=True, gridcolor="#E2E2E2", griddash="dot", gridwidth=0.8, zeroline=False),
)

shapes = [dict(type="line", xref="paper", yref="y2", x0=px(31.7), x1=px(31.7), y0=0, y1=30,
               line=dict(color="#333", width=1))]
annotations = []

# rotated category labels of panel B
for p, lab in zip(pos, box_labels):
    annotations.append(dict(text="<b>%s</b>" % lab, x=p, xref="x3", xshift=6, y=py(375.5), yref="paper",
                            textangle=-45, showarrow=False, xanchor="right", yanchor="top",
                            font=dict(family=FONT, size=9.2, color="#111")))

# group labels over header band
start = 0
for g, n in zip(group_names, group_sizes):
    annotations.append(dict(text="<b>%s</b>" % g, x=start + (n - 1) / 2, xref="x", y=py(17.5), yref="paper",
                            showarrow=False, xanchor="center", yanchor="middle",
                            font=dict(family=FONT, size=10.5, color="#111")))
    start += n

annotations.append(dict(text="<b>A</b>", x=px(64.5), y=py(10), xref="paper", yref="paper", showarrow=False,
                        xanchor="center", yanchor="middle", font=dict(family=FONT, size=19, color="#000")))
annotations.append(dict(text="<b>B</b>", x=px(274), y=py(198), xref="paper", yref="paper", showarrow=False,
                        xanchor="center", yanchor="middle", font=dict(family=FONT, size=18, color="#000")))
annotations.append(dict(text="<b>Normalised Abundance</b>", x=px(4.8), y=py(102), xref="paper", yref="paper",
                        showarrow=False, textangle=-90, xanchor="center", yanchor="middle",
                        font=dict(family=FONT, size=10, color="#111")))
annotations.append(dict(text="<b>Reads Per Sample</b>", x=px(301), y=py(272.5), xref="paper", yref="paper",
                        showarrow=False, textangle=-90, xanchor="center", yanchor="middle",
                        font=dict(family=FONT, size=16.5, color="#111")))

# legend (top entry = top of stack)
leg_top, leg_step = 185.9, 8.23
for k, (nm, it, col, _) in enumerate(reversed(taxa)):
    yc = leg_top + k * leg_step
    shapes.append(dict(type="rect", xref="paper", yref="paper", x0=px(58.3), x1=px(62.8),
                       y0=py(yc + 2.25), y1=py(yc - 2.25), fillcolor=col, line=dict(color="#333", width=0.6)))
    label = "<b><i>%s</i></b>" % nm if it else "<b>%s</b>" % nm
    annotations.append(dict(text=label, x=px(66.3), y=py(yc), xref="paper", yref="paper", showarrow=False,
                            xanchor="left", yanchor="middle", font=dict(family=FONT, size=6.8, color="#111")))

fig.update_layout(shapes=shapes, annotations=annotations)
fig.write_html("out.html", config={"displayModeBar": False},
               post_script="document.body.style.margin='0px';document.body.style.padding='0px';")
